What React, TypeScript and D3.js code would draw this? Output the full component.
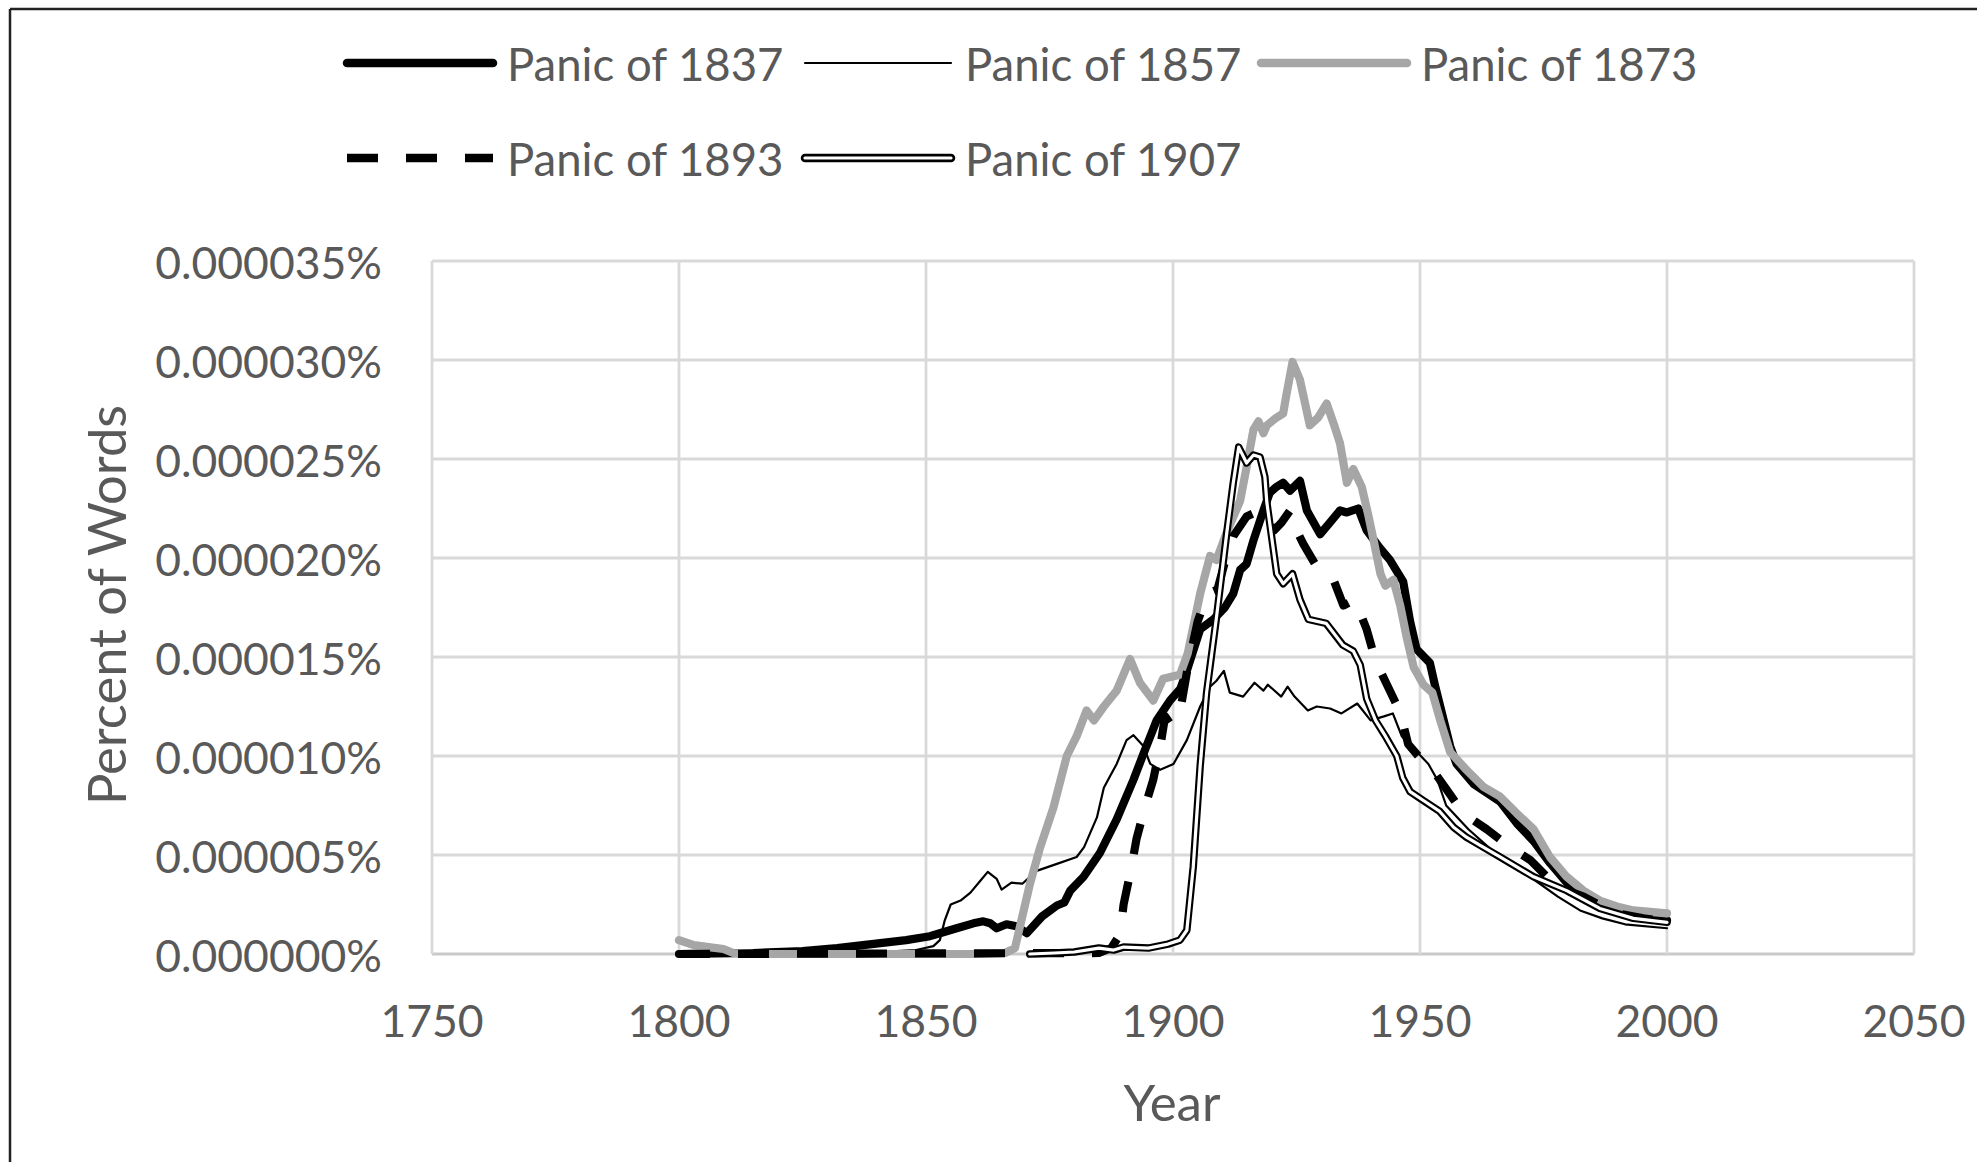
import React from 'react';
import * as d3 from 'd3';

// Values are in millionths of a percent (1 = 0.000001 % of words)
const xTicks = [1750, 1800, 1850, 1900, 1950, 2000, 2050];
const yTicks = [0, 5, 10, 15, 20, 25, 30, 35];

const panic1837: [number, number][] = [
  [1800, 0], [1815, 0.05], [1825, 0.15], [1832, 0.3], [1839, 0.5], [1846, 0.7], [1850.8, 0.9],
  [1852.8, 1.05], [1856.2, 1.3], [1859.6, 1.55], [1861.6, 1.65], [1863, 1.55], [1864.3, 1.3],
  [1866.3, 1.5], [1868.3, 1.4], [1870.4, 1.05], [1873.5, 1.9], [1876.5, 2.45], [1878, 2.6],
  [1879.2, 3.2], [1881.9, 3.9], [1885.2, 5.1], [1888.6, 6.8], [1892, 8.8], [1894, 10.1],
  [1896.7, 11.8], [1899.4, 12.8], [1901.5, 13.4], [1902.8, 14.3], [1905.5, 16.4], [1908.2, 16.9],
  [1910.5, 17.5], [1912.2, 18.2], [1913.6, 19.4], [1914.9, 19.7], [1916.3, 20.9], [1918.3, 22.4],
  [1919.6, 23.3], [1921, 23.6], [1922.3, 23.8], [1923.7, 23.4], [1925.7, 23.9], [1927.1, 22.4],
  [1929.8, 21.2], [1931.8, 21.8], [1933.8, 22.4], [1935.2, 22.3], [1937.5, 22.5], [1939.2, 21.4],
  [1941.9, 20.5], [1943.9, 19.9], [1946.6, 18.8], [1948, 16.8], [1949.3, 15.4], [1952, 14.7],
  [1953, 13.6], [1954.1, 12.5], [1956.1, 10.5], [1957.4, 9.6], [1960.8, 8.6], [1966.2, 7.7],
  [1969.6, 6.6], [1973, 5.7], [1976.3, 4.6], [1979.7, 3.6], [1983.1, 3.1], [1986.4, 2.6],
  [1989.8, 2.2], [1995.2, 1.85], [2000, 1.7],
];

const panic1857: [number, number][] = [
  [1800, 0], [1840, 0.1], [1848, 0.2], [1851.5, 0.4], [1852.8, 0.7], [1853.8, 1.7], [1855, 2.5],
  [1857, 2.7], [1859, 3.1], [1861, 3.7], [1862.5, 4.15], [1864.3, 3.8], [1865.3, 3.25],
  [1867.3, 3.6], [1869.5, 3.55], [1872.4, 4.2], [1876.5, 4.55], [1880.5, 4.9], [1882, 5.4],
  [1884.6, 6.9], [1886, 8.4], [1887.3, 9.0], [1888.6, 9.6], [1890.6, 10.8], [1892, 11.05],
  [1894, 10.5], [1895.4, 9.6], [1897.4, 9.3], [1900.1, 9.6], [1902.8, 10.8], [1905.5, 12.5],
  [1907.5, 13.5], [1908.8, 13.8], [1910.3, 14.3], [1911.5, 13.2], [1914.2, 13.0], [1916.5, 13.7],
  [1918.3, 13.3], [1919.2, 13.6], [1921.9, 13.0], [1923.2, 13.5], [1924.6, 13.0], [1927.3, 12.3],
  [1929.1, 12.5], [1931.8, 12.4], [1934.1, 12.15], [1937.3, 12.65], [1940, 11.8], [1942.7, 12.0],
  [1944.5, 12.15], [1946.3, 11.0], [1949, 10.3], [1951.7, 9.6], [1953.5, 8.8], [1955.3, 7.5],
  [1959.8, 6.3], [1964.3, 5.3], [1968.9, 4.5], [1973.4, 3.7], [1977.9, 2.9], [1982.4, 2.2],
  [1986.9, 1.8], [1991.5, 1.5], [2000, 1.3],
];

const panic1873: [number, number][] = [
  [1800, 0.7], [1803, 0.45], [1806, 0.35], [1809, 0.25], [1811, 0.05], [1815, 0], [1860, 0],
  [1866, 0.05], [1868, 0.3], [1869.5, 1.9], [1871, 3.5], [1873, 5.3], [1875.8, 7.4], [1878.5, 10],
  [1880.5, 11], [1882.5, 12.3], [1884, 11.8], [1886, 12.5], [1888.6, 13.3], [1891.3, 14.9],
  [1893.3, 13.7], [1896, 12.8], [1898, 13.9], [1901.4, 14.1], [1903, 15.2], [1905.5, 18.2],
  [1907.5, 20.1], [1908.8, 19.9], [1910.9, 21.3], [1913.6, 22.9], [1914.9, 24.6], [1916.3, 26.5],
  [1917.3, 26.9], [1918.3, 26.3], [1919, 26.7], [1921, 27.1], [1922.3, 27.3], [1923, 28.3],
  [1924.2, 29.9], [1925.7, 29.0], [1927.7, 26.7], [1929.4, 27.1], [1931.1, 27.8], [1932.5, 26.8],
  [1933.8, 25.8], [1935.2, 23.8], [1936.5, 24.5], [1938.2, 23.6], [1939.5, 22.2], [1940.6, 20.9],
  [1942, 19.2], [1943, 18.6], [1944.6, 18.9], [1946, 17.6], [1947.3, 16.0], [1948.7, 14.5],
  [1950.7, 13.6], [1952.5, 13.2], [1954.1, 11.8], [1956.1, 10.2], [1959.4, 9.3], [1962.8, 8.45],
  [1966.2, 7.95], [1969.6, 7.1], [1973, 6.3], [1976.3, 4.9], [1979.7, 3.9], [1983.1, 3.2],
  [1986.4, 2.7], [1989.8, 2.4], [1993.2, 2.2], [2000, 2.05],
];

const panic1893: [number, number][] = [
  [1800, 0], [1885, 0.05], [1887.5, 0.3], [1889.3, 1.0], [1890, 2.5], [1891.6, 4.4], [1892.6, 5.8],
  [1894.3, 7.4], [1896, 8.8], [1897.5, 10.6], [1898.4, 12.0], [1899.5, 11.6], [1901.4, 12.2],
  [1903, 14.5], [1905, 16.8], [1907, 18.2], [1909, 18.4], [1910.5, 19.8], [1912.2, 21.1],
  [1914.9, 22.1], [1917.6, 22.4], [1919.6, 22.1], [1920.5, 21.4], [1922, 21.8], [1923.7, 22.4],
  [1925, 21.4], [1926.4, 20.7], [1929, 19.6], [1931, 19.3], [1932.5, 18.9], [1934.5, 17.6],
  [1936.8, 17.9], [1939.2, 16.4], [1941, 14.8], [1943.9, 13.3], [1946, 12.2], [1947.6, 10.6],
  [1950, 9.9], [1952, 9.5], [1955.4, 8.3], [1958.8, 7.1], [1963.5, 6.3], [1968.2, 5.4],
  [1972.3, 4.75], [1977.7, 3.4], [1983.1, 2.9], [1989.1, 2.1], [1995.2, 1.8], [2000, 1.65],
];

const panic1907: [number, number][] = [
  [1871, 0], [1876, 0.05], [1880, 0.1], [1885, 0.3], [1888, 0.2], [1890, 0.35], [1895, 0.3],
  [1899, 0.5], [1901.4, 0.7],
  [1902.8, 1.2], [1904.1, 4.4], [1905.5, 9.5], [1906.8, 13.2], [1908.8, 17.0], [1910.9, 21.3],
  [1912.2, 23.8], [1913.3, 25.6], [1914.9, 24.8], [1916.3, 25.2], [1917.6, 25.1], [1918.6, 24.1],
  [1919, 22.8], [1921, 19.2], [1922.3, 18.7], [1924.2, 19.2], [1925.7, 17.9], [1927.4, 16.9],
  [1931, 16.7], [1934.4, 15.6], [1936.5, 15.3], [1937.9, 14.6], [1939.2, 12.9], [1941, 11.8],
  [1943, 11.0], [1945.3, 10.0], [1946.5, 8.9], [1948, 8.2], [1951, 7.7], [1954, 7.2],
  [1956.8, 6.4], [1959.4, 5.9], [1962.1, 5.5], [1966.2, 4.9], [1973, 3.9], [1979.7, 3.2],
  [1986.4, 2.3], [1993.2, 1.8], [2000, 1.6],
];

const seriesNames = ['Panic of 1837', 'Panic of 1857', 'Panic of 1873', 'Panic of 1893', 'Panic of 1907'];

const FONT = 'Lato, "Open Sans", sans-serif';
const TEXT = '#595959';
const GREY = '#A6A6A6';

type Style = { stroke: string; width: number; dash?: string; inner?: number };
const styles: Style[] = [
  { stroke: '#000', width: 8.2 },
  { stroke: '#000', width: 2.2 },
  { stroke: GREY, width: 8.2 },
  { stroke: '#000', width: 8.2, dash: '31 28' },
  { stroke: '#000', width: 7.5, inner: 3.2 },
];

export default function App() {
  const W = 1977;
  const H = 1162;
  const x = d3.scaleLinear().domain([1750, 2050]).range([432, 1914]);
  const y = d3.scaleLinear().domain([0, 35]).range([954, 261]);
  const line = d3.line<[number, number]>().x((d) => x(d[0])).y((d) => y(d[1]));
  const data = [panic1837, panic1857, panic1873, panic1893, panic1907];
  const fmt = (v: number) => `0.${String(Math.round(v)).padStart(6, '0')}%`;

  const legendRows = [63, 158];
  const legendCols = [347, 805, 1261];
  const legendPos = [
    [0, 0], [0, 1], [0, 2], [1, 0], [1, 1],
  ];

  const renderLine = (d: string, s: Style, key: string) => (
    <g key={key}>
      <path d={d} fill="none" stroke={s.stroke} strokeWidth={s.width}
        strokeDasharray={s.dash} strokeLinejoin="round" strokeLinecap={s.dash ? 'butt' : 'round'} />
      {s.inner ? (
        <path d={d} fill="none" stroke="#fff" strokeWidth={s.inner} strokeLinejoin="round" strokeLinecap="round" />
      ) : null}
    </g>
  );

  return (
    <svg width={W} height={H} viewBox={`0 0 ${W} ${H}`}
      style={{ position: 'absolute', left: 0, top: 0, background: '#fff' }}>
      <rect x={0} y={0} width={W} height={H} fill="#fff" />
      <line x1={10} y1={9} x2={W} y2={9} stroke="#222" strokeWidth={2.5} />
      <line x1={10} y1={9} x2={10} y2={H} stroke="#222" strokeWidth={2.5} />

      {yTicks.map((t) => (
        <line key={'gy' + t} x1={x(1750)} x2={x(2050)} y1={y(t)} y2={y(t)}
          stroke={t === 0 ? '#C9C9C9' : '#D9D9D9'} strokeWidth={2.8} />
      ))}
      {xTicks.map((t) => (
        <line key={'gx' + t} x1={x(t)} x2={x(t)} y1={y(35)} y2={y(0)} stroke="#D9D9D9" strokeWidth={2.8} />
      ))}

      {yTicks.map((t) => (
        <text key={'ly' + t} x={382} y={y(t)} textAnchor="end" dominantBaseline="central"
          fontFamily={FONT} fontSize={44.5} fill={TEXT}>{fmt(t)}</text>
      ))}
      {xTicks.map((t) => (
        <text key={'lx' + t} x={x(t)} y={1019} textAnchor="middle" dominantBaseline="central"
          fontFamily={FONT} fontSize={44.5} fill={TEXT}>{t}</text>
      ))}

      <text x={1172} y={1101} textAnchor="middle" dominantBaseline="central"
        fontFamily={FONT} fontSize={51} fill={TEXT}>Year</text>
      <text transform={`translate(105,605) rotate(-90)`} textAnchor="middle" dominantBaseline="central"
        fontFamily={FONT} fontSize={52.5} fill={TEXT}>Percent of Words</text>

      {data.map((s, i) => renderLine(line(s) || '', styles[i], 's' + i))}

      {seriesNames.map((name, i) => {
        const [r, c] = legendPos[i];
        const ly = legendRows[r];
        const lx = legendCols[c];
        const d = `M${lx},${ly}L${lx + 146},${ly}`;
        const s = styles[i];
        return (
          <g key={'lg' + i}>
            {renderLine(d, { ...s, width: s.width < 3 ? 2.2 : 8.5 }, 'll' + i)}
            <text x={lx + 160} y={ly} dominantBaseline="central" fontFamily={FONT} fontSize={45.5} fill={TEXT}>{name}</text>
          </g>
        );
      })}
    </svg>
  );
}
